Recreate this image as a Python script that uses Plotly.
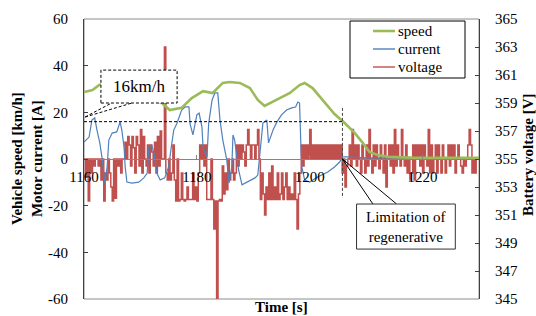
import plotly.graph_objects as go

# ---------------- data ----------------
speed_t = [1160, 1161.5, 1162.7, 1164, 1166, 1168, 1170, 1172, 1173.8, 1175.2, 1177.3, 1179.1,
           1181.1, 1182.8, 1184.6, 1185.8, 1187.6, 1189.4, 1190.8, 1192, 1194.2, 1196.5, 1198.2,
           1199.1, 1200.5, 1202.7, 1204.4, 1206.2, 1208, 1209.4, 1210.6, 1212, 1214, 1218, 1224, 1230]
speed_v = [28.7, 29.6, 31.7, 32.5, 32, 30, 28, 26, 24, 21, 21.9, 26.1,
           29.1, 28.3, 32.6, 33, 32.6, 30.4, 25.3, 22.7, 25.3, 28.3, 31.7,
           32.6, 30.4, 24, 19.3, 15.4, 11.1, 6.9, 3, 1.7, 0.9, 0.6, 0.5, 0.5]

current_t = [1160, 1160.9, 1161.4, 1161.9, 1162.3, 1162.8, 1163.2, 1163.5, 1163.7, 1164.1, 1164.4,
             1165, 1165.8, 1166.4, 1166.7, 1167.1, 1167.3, 1167.6, 1168.5, 1169.7, 1170.6, 1171.2,
             1171.5, 1172, 1172.4, 1172.9, 1173.5, 1174.3, 1175, 1175.4, 1175.9, 1176.5, 1177.3,
             1177.9, 1178.6, 1178.8, 1179.3, 1180, 1180.4, 1180.9, 1181.1, 1181.8, 1182.1, 1182.7,
             1183.2, 1183.7, 1184.1, 1184.6, 1185.3, 1185.7, 1186.2, 1186.4, 1186.7, 1187.1, 1187.4,
             1188, 1189, 1190.3, 1190.8, 1191.2, 1191.7, 1192.4, 1192.7, 1193.5, 1194.2, 1195,
             1195.9, 1196.8, 1197.5, 1197.9, 1198.2, 1198.4, 1198.6, 1199.1, 1200, 1201.4, 1203.2,
             1204.4, 1205.3, 1205.8, 1206.4, 1210, 1215, 1220, 1225, 1230]
current_v = [7.3, 9.4, 16.7, 17.6, 12.4, 6.9, 0.4, -6, -10.3, -3.4, 8.1,
             11.1, 11.6, 15.9, 12.4, 5.1, -3.4, -9.9, -10.3, -9.9, -8.1, -6,
             5.1, 6, 2.6, -6, -9, -8.1, -3.4, 3.9, 12.4, 15.4, 21,
             22.3, 22.3, 15, 10.3, 18.9, 19.7, 13.7, 5.1, 0.9, 15.4, 25.3,
             28.3, 28.3, 16.7, 8.1, -0.4, -10.3, -3.4, 10.3, 8.1, 0.9, -4.7,
             -11.1, -9.9, -8.1, -6.9, 3.9, 15.4, 16.7, 6.9, 12.4, 15.9, 18.9,
             21, 21.9, 22.3, 24.4, 24, 8.1, -3.4, -9, -9.9, -7.7, -5.6,
             -3.4, -1.3, 0.9, 0.9, 0.5, 0.5, 0.5, 0.5, 0.5]

# battery voltage, sampled every 0.25 s from 1160 s (one row per second)
voltage_v = [
    355, 353.7, 355, 352,      # 1160
    355, 354, 355, 354.5,      # 1161
    355, 355, 354.5, 355,      # 1162
    353.5, 355, 352, 354,      # 1163
    353.5, 355, 354, 353,      # 1164
    352, 355, 352.2, 355,      # 1165
    354.5, 355, 354, 355,      # 1166
    355, 356.2, 355, 356.6,    # 1167
    356, 354.5, 356.6, 355.8,  # 1168
    354, 356.6, 356, 354.5,    # 1169
    357.1, 354, 356.6, 355,    # 1170
    354.5, 356, 354, 356,      # 1171
    355.5, 354.5, 356.2, 354,  # 1172
    356.6, 354.5, 357, 355,    # 1173
    355, 363, 354, 353.5,      # 1174
    355, 353.5, 354, 356,      # 1175
    353.5, 352, 355, 352,      # 1176
    352.1, 354, 352.1, 352,    # 1177
    352.1, 353, 352.1, 352.1,  # 1178
    352.1, 354, 352.1, 353,    # 1179
    352, 354, 356, 355,        # 1180
    356, 354.5, 356, 352.1,    # 1181
    352.1, 352.1, 355, 352.1,  # 1182
    350, 352, 345, 352,        # 1183
    352.1, 352, 354.5, 352.5,  # 1184
    354, 352.8, 355, 353.5,    # 1185
    354, 355, 353.5, 354,      # 1186
    356, 354.5, 356, 355,      # 1187
    356, 355.5, 354.5, 356,    # 1188
    357.1, 356, 355, 356,      # 1189
    356, 355, 356, 357.1,      # 1190
    355, 352.1, 354, 352.5,    # 1191
    351, 353, 352.1, 354,      # 1192
    352.1, 354.5, 352.1, 353,  # 1193
    352.1, 354, 352.1, 352.5,  # 1194
    354, 352.1, 353, 354,      # 1195
    352.1, 353, 352.1, 352.5,  # 1196
    352.1, 354, 352.1, 350,    # 1197
    352.5, 354, 356, 354.5,    # 1198
    356, 355, 356, 355,        # 1199
    357.1, 355, 356, 355,      # 1200
    356, 355, 356, 355,        # 1201
    356, 355, 356, 355,        # 1202
    356, 355, 356, 355,        # 1203
    356, 355, 356, 355,        # 1204
    356, 355, 356, 354,        # 1205
    355, 353, 354.5, 355,      # 1206
    356, 354.5, 357.1, 355,    # 1207
    356, 354.5, 356, 355,      # 1208
    354, 356, 355, 354,        # 1209
    356, 354.5, 357.1, 355,    # 1210
    354, 356, 354.5, 356,      # 1211
    355, 354.3, 356, 355,      # 1212
    354, 356, 353, 355,        # 1213
    356, 354.5, 356, 354,      # 1214
    357.1, 354.5, 356, 355,    # 1215
    354.5, 357.1, 355, 354.5,  # 1216
    356, 354, 355, 353.5,      # 1217
    354, 356, 353.5, 356,      # 1218
    355, 356, 354.5, 356,      # 1219
    354, 356, 355, 354.5,      # 1220
    357.1, 354, 356, 354,      # 1221
    355, 356, 354, 356,        # 1222
    355, 354, 356, 355,        # 1223
    354, 355, 356, 354.5,      # 1224
    356, 355, 356, 354,        # 1225
    355, 356, 355, 354.5,      # 1226
    354, 355, 354.5, 355,      # 1227
    356, 357.1, 356, 354,      # 1228
    355, 354, 355, 355,        # 1229
]
voltage_t = [1160 + 0.25 * i for i in range(len(voltage_v))]

x_ticks = [1160, 1180, 1200, 1220]
left_ticks = [-60, -40, -20, 0, 20, 40, 60]
left_tick_text = ["-60", "-40", "-20", "0", "20", "40", "60"]
right_ticks = [345, 347, 349, 351, 353, 355, 357, 359, 361, 363, 365]
legend_names = ["speed", "current", "voltage"]

SERIF = "Liberation Serif"
GREEN, BLUE, RED = "#9BBB59", "#4F81BD", "#C0504D"
TF = dict(family=SERIF, size=15, color="black")

# pixel helpers for plot-area-relative placement (plot area 84..479 x 19..299)
L, R, T, B = 84, 479, 19, 299
def px(x):
    return (x - L) / (R - L)
def py(y):
    return (B - y) / (B - T)

fig = go.Figure()
fig.add_trace(go.Scatter(x=voltage_t, y=voltage_v, name="voltage", mode="lines",
                         line=dict(color=RED, width=1.5, shape="hv"), yaxis="y"))
fig.add_trace(go.Scatter(x=current_t, y=current_v, name="current", mode="lines",
                         line=dict(color=BLUE, width=1.2), yaxis="y2"))
fig.add_trace(go.Scatter(x=speed_t, y=speed_v, name="speed", mode="lines",
                         line=dict(color=GREEN, width=2.6), yaxis="y2"))

fig.update_layout(
    width=536, height=316,
    margin=dict(l=L, r=536 - R, t=T, b=316 - B, autoexpand=False),
    paper_bgcolor="white", plot_bgcolor="white",
    font=TF,
    showlegend=False,
    xaxis=dict(range=[1160, 1230], anchor="free", position=0.5,
               tickvals=x_ticks, ticks="inside", ticklen=4, tickcolor="#868686",
               showline=True, linecolor="#868686", linewidth=1.3,
               showgrid=False, zeroline=False, tickfont=TF, automargin=False,
               ticklabelstandoff=4),
    yaxis=dict(range=[345, 365], side="right", tickvals=right_ticks,
               ticks="inside", ticklen=4, tickcolor="#404040",
               showline=True, linecolor="#404040", linewidth=1,
               showgrid=False, zeroline=False, ticklabelstandoff=12,
               tickfont=TF, automargin=False),
    yaxis2=dict(range=[-60, 60], overlaying="y", side="left", tickvals=left_ticks,
                ticktext=left_tick_text,
                ticks="inside", ticklen=4, tickcolor="#404040",
                showline=True, linecolor="#404040", linewidth=1,
                showgrid=False, zeroline=False, ticklabelstandoff=12,
                tickfont=TF, automargin=False),
)

shapes = [
    # plot-area border
    dict(type="rect", xref="paper", yref="paper", x0=0, x1=1, y0=0, y1=1,
         line=dict(color="#8c8c8c", width=1), layer="below"),
    # 16 km/h dashed guide
    dict(type="line", xref="x", yref="y2", x0=1160, x1=1205.8, y0=16, y1=16,
         line=dict(color="black", width=1, dash="3px,2px")),
    dict(type="line", xref="x", yref="y2", x0=1205.8, x1=1205.8, y0=21.9, y1=-16.7,
         line=dict(color="#444", width=1, dash="3px,2px")),
    # callout lines for 16km/h box
    dict(type="line", xref="x", yref="y2", x0=1160.2, y0=18, x1=1164.9, y1=24,
         line=dict(color="black", width=1, dash="3px,2px")),
    dict(type="line", xref="x", yref="y2", x0=1160.2, y0=18, x1=1168.5, y1=24,
         line=dict(color="black", width=1, dash="3px,2px")),
    # 16km/h box
    dict(type="rect", xref="x", yref="y2", x0=1163.0, x1=1176.5, y0=24.0, y1=38.1,
         fillcolor="white", line=dict(color="black", width=1, dash="3px,2px"), layer="above"),
    # limitation callout lines
    dict(type="line", xref="x", yref="y2", x0=1205.8, y0=0, x1=1211.2, y1=-19.3,
         line=dict(color="black", width=1)),
    dict(type="line", xref="x", yref="y2", x0=1205.8, y0=0, x1=1215.4, y1=-19.3,
         line=dict(color="black", width=1)),
    dict(type="rect", xref="x", yref="y2", x0=1208.3, x1=1225.8, y0=-19.3, y1=-38.6,
         fillcolor="white", line=dict(color="#333", width=1), layer="above"),
    # legend box
    dict(type="rect", xref="paper", yref="paper", x0=px(350), x1=px(465), y0=py(78), y1=py(21),
         fillcolor="white", line=dict(color="black", width=1), layer="above"),
]

annotations = [
    dict(x=1169.75, y=31.0, xref="x", yref="y2", text="16km/h", showarrow=False,
         font=dict(family=SERIF, size=17, color="black")),
    dict(x=1217.05, y=-29.0, xref="x", yref="y2", text="Limitation of<br>regenerative",
         showarrow=False, font=dict(family=SERIF, size=15, color="black"), align="center"),
    dict(x=0.5, y=py(306.5), xref="paper", yref="paper", text="<b>Time [s]</b>",
         showarrow=False, yanchor="middle", font=dict(family=SERIF, size=15, color="black")),
    dict(x=px(27), y=0.5, xref="paper", yref="paper",
         text="<b>Vehicle speed [km/h]<br>Motor current [A]</b>", textangle=-90,
         showarrow=False, xanchor="center", font=dict(family=SERIF, size=15, color="black")),
    dict(x=px(528), y=py(155), xref="paper", yref="paper", text="<b>Battery voltage [V]</b>",
         textangle=-90, showarrow=False, xanchor="center",
         font=dict(family=SERIF, size=15, color="black")),
]

# hand-placed legend (matches the original's compact spacing)
legend_colors = [GREEN, BLUE, RED]
legend_widths = [2.6, 1.4, 1.4]
legend_rows = [31, 49, 67]
for name, col, w, ry in zip(legend_names, legend_colors, legend_widths, legend_rows):
    shapes.append(dict(type="line", xref="paper", yref="paper", x0=px(373), x1=px(395),
                       y0=py(ry), y1=py(ry), line=dict(color=col, width=w), layer="above"))
    annotations.append(dict(x=px(396), y=py(ry), xref="paper", yref="paper", text=name,
                            showarrow=False, xanchor="left", yanchor="middle",
                            font=dict(family=SERIF, size=15, color="black")))

fig.update_layout(shapes=shapes, annotations=annotations)

fig.write_html("out.html", config={"displayModeBar": False, "staticPlot": True},
               post_script="document.body.style.margin='0';document.body.style.overflow='hidden';")
